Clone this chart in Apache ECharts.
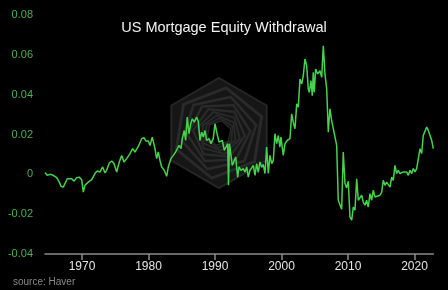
<!DOCTYPE html>
<html><head><meta charset="utf-8">
<script src="https://cdn.jsdelivr.net/npm/echarts@6/dist/echarts.min.js"></script>
<style>html,body{margin:0;padding:0;background:#000;}#c{width:448px;height:290px;}</style>
</head><body><div id="c"></div>
<script>
const years = [1964.44,1964.78,1965.19,1965.68,1966.20,1966.59,1966.84,1967.19,1967.44,1967.79,1968.45,1968.80,1969.20,1969.59,1969.95,1970.20,1970.45,1970.95,1971.46,1971.95,1972.30,1972.71,1973.11,1973.46,1973.71,1974.11,1974.47,1974.81,1975.22,1975.61,1975.97,1976.32,1976.72,1977.22,1977.62,1977.97,1978.47,1978.98,1979.32,1979.62,1979.97,1980.23,1980.57,1980.98,1981.23,1981.47,1981.73,1981.98,1982.38,1982.74,1982.98,1983.38,1983.73,1984.09,1984.33,1984.59,1984.89,1985.08,1985.38,1985.59,1985.83,1986.09,1986.35,1986.59,1986.89,1987.25,1987.49,1987.74,1988.00,1988.24,1988.50,1988.75,1989.10,1989.40,1989.74,1990.00,1990.26,1990.60,1990.90,1991.10,1991.40,1991.61,1991.91,1992.03,1992.18,1992.41,1992.60,1992.90,1993.11,1993.41,1993.61,1993.91,1994.26,1994.51,1994.77,1995.01,1995.26,1995.52,1995.76,1996.02,1996.27,1996.51,1996.77,1997.02,1997.26,1997.52,1997.77,1998.02,1998.27,1998.53,1998.77,1999.02,1999.28,1999.52,1999.77,1999.92,2000.27,2000.53,2000.87,2001.28,2001.53,2001.77,2002.03,2002.29,2002.53,2002.78,2003.04,2003.28,2003.53,2003.79,2004.03,2004.18,2004.44,2004.63,2004.78,2004.93,2005.14,2005.44,2005.79,2006.05,2006.29,2006.54,2006.80,2007.04,2007.29,2007.55,2007.79,2008.05,2008.30,2008.54,2008.80,2009.05,2009.29,2009.55,2009.80,2010.05,2010.30,2010.56,2010.80,2011.05,2011.31,2011.55,2011.80,2012.06,2012.30,2012.56,2012.81,2013.05,2013.31,2013.56,2013.80,2014.06,2014.32,2014.81,2015.07,2015.31,2015.56,2015.82,2016.32,2016.57,2016.81,2017.07,2017.32,2017.56,2017.82,2018.32,2018.57,2018.83,2019.07,2019.32,2019.58,2019.82,2020.08,2020.33,2020.57,2020.83,2021.08,2021.32,2021.58,2021.83,2022.08,2022.33,2022.59,2022.83];
const mew = [0.0009,-0.0005,0,-0.0005,-0.0017,-0.0039,-0.006,-0.0064,-0.0055,-0.0022,-0.0022,-0.0034,-0.0017,-0.0014,-0.0027,-0.0089,-0.0055,-0.0039,-0.0027,0.0004,0.0017,0.0012,0.0037,0.0007,0.002,0.0057,0.0067,0.0054,0.0012,0.0062,0.0095,0.0062,0.0079,0.0104,0.0129,0.0112,0.014,0.0179,0.0184,0.0167,0.0168,0.0145,0.0187,0.0129,0.0079,0.0112,0.007,0.0037,0.002,-0.001,0.0037,0.0079,0.0095,0.0112,0.0104,0.0145,0.0129,0.0179,0.022,0.017,0.0287,0.0204,0.0254,0.0279,0.0262,0.0287,0.0267,0.017,0.0212,0.0187,0.022,0.017,0.0179,0.0154,0.0179,0.0254,0.0212,0.0162,0.0154,0.017,0.012,0.0129,0.0154,-0.0055,0.0154,0.0095,0.0045,0.0037,0.0087,-0.0014,0.0037,0.002,0.0029,0.0012,0.0037,-0.0014,0.002,0.0012,0.0045,-0.0005,0.0054,0.001,0.0062,0.0035,0.005,0.0004,0.0137,0.0004,0.0095,0.0054,0.007,0.0204,0.0154,0.0195,0.0137,0.0187,0.0095,0.0154,0.017,0.0179,0.0304,0.0262,0.0229,0.0354,0.0337,0.0479,0.0454,0.0495,0.0579,0.0545,0.0429,0.0412,0.047,0.0395,0.0512,0.0412,0.0529,0.0504,0.052,0.0487,0.0645,0.0504,0.0429,0.0212,0.0329,0.027,0.0279,0.0187,0.0145,-0.013,-0.013,-0.0175,0.0112,-0.0045,-0.0068,-0.0035,-0.0215,-0.023,-0.0164,-0.018,-0.0022,-0.013,-0.013,-0.0105,-0.0139,-0.0155,-0.013,-0.0164,-0.0097,-0.013,-0.008,-0.0114,-0.0122,-0.0105,-0.0089,-0.003,-0.0055,-0.0039,-0.0064,-0.0014,-0.003,0.0045,0.0004,0.002,0.0004,0.0012,0.0004,0.0012,-0.0005,0.002,0.0004,0.0029,0.0012,0.0029,0.002,0.0129,0.0104,0.0195,0.0187,0.0237,0.022,0.0212,0.017,0.0129];
const xTickYears = [1970,1980,1990,2000,2010,2020];
const yTicks = [-0.04,-0.02,0,0.02,0.04,0.06,0.08];
const titleText = 'US Mortgage Equity Withdrawal';
const sourceText = 'source: Haver';

const chart = echarts.init(document.getElementById('c'), null, {renderer:'canvas'});
const seriesData = years.map((y,i)=>[y, mew[i]]);

function hexPoints(cx, cy, r, rotDeg){
  const pts=[];
  for(let k=0;k<6;k++){
    const a=(rotDeg-90+60*k)*Math.PI/180;
    pts.push([cx+r*Math.cos(a), cy+r*Math.sin(a)]);
  }
  return pts;
}
const wm=[];
const cx=219, cy=133;
wm.push({type:'polygon', shape:{points:hexPoints(cx,cy,55,0)}, style:{fill:'#161616', stroke:'#262626', lineWidth:2}, silent:true});
for(let i=1;i<9;i++){
  const r=55*Math.pow(0.83,i);
  wm.push({type:'polygon', shape:{points:hexPoints(cx,cy,r,i*9)}, style:{fill:i===8?'#000':null, stroke:'#2a2a2a', lineWidth:3.2-0.25*i}, silent:true});
}

chart.setOption({
  backgroundColor:'#000',
  animation:false,
  textStyle:{fontFamily:'Liberation Sans'},
  title:{text:titleText, left:219, top:15, textAlign:'center',
    textStyle:{color:'#f2f2f2', fontSize:14.5, fontWeight:'normal', fontFamily:'Liberation Sans'}},
  graphic:[
    {type:'group', silent:true, children:wm},
    {type:'text', left:13, top:277, style:{text:sourceText, fill:'#8a8a8a', fontSize:10, fontFamily:'Liberation Sans'}}
  ],
  grid:{left:45, right:14.7, top:15, bottom:36},
  xAxis:{type:'value', min:1964.44, max:2022.83,
    axisLine:{show:true, onZero:false, lineStyle:{color:'#8c8c8c', width:1.5}},
    axisTick:{show:true, customValues:xTickYears, length:6, lineStyle:{color:'#8c8c8c', width:1.5}},
    axisLabel:{customValues:xTickYears, color:'#e6e6e6', fontSize:12, margin:7, formatter:v=>String(v)},
    splitLine:{show:false}},
  yAxis:{type:'value', min:-0.04, max:0.08, interval:0.02,
    axisLine:{show:false}, axisTick:{show:false}, splitLine:{show:false},
    axisLabel:{color:'#4caf50', fontSize:11, margin:12,
      formatter:v=>{const r=Math.round(v*100)/100; return r===0?'0':String(r);}}},
  series:[{type:'line', data:seriesData, showSymbol:false, symbol:'none', zlevel:1,
    lineStyle:{color:'#45d34c', width:1.5}}]
});
</script></body></html>
